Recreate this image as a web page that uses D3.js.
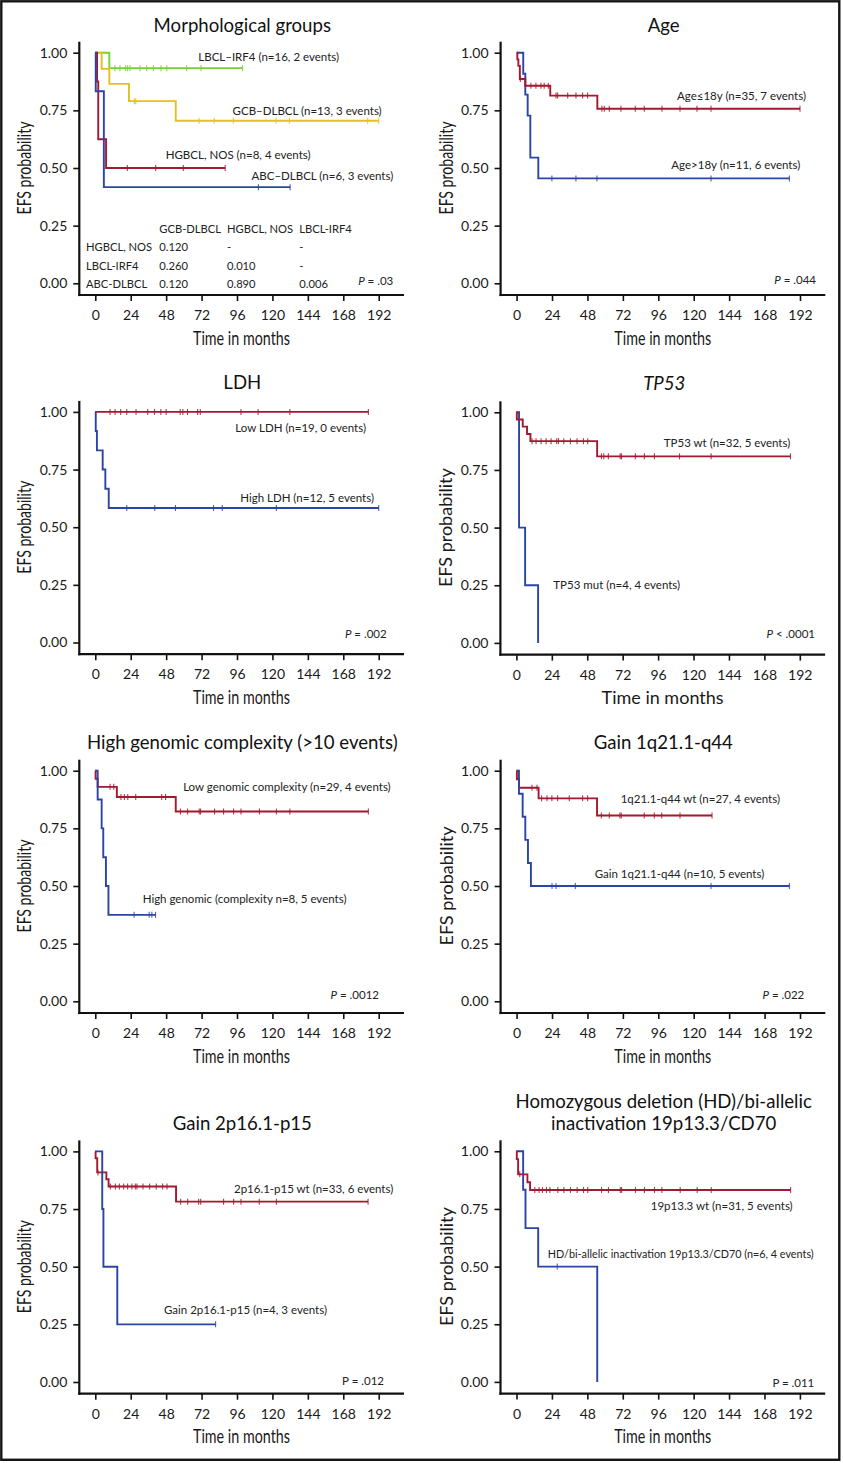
<!DOCTYPE html>
<html><head><meta charset="utf-8">
<script src="https://cdn.jsdelivr.net/npm/d3@7"></script>
<style>body{margin:0;background:#fff}svg{display:block}</style>
</head><body><svg id="c" width="843" height="1463"></svg>
<script>
// ---------- shared ticks ----------
const xTicks = [0, 24, 48, 72, 96, 120, 144, 168, 192];
const yTicks = [0, 0.25, 0.5, 0.75, 1];

// ---------- Morphological groups ----------
const morphLbclTimes = [9.5], morphLbclSurv = [0.933];
const morphLbclCens = [13.3, 16.7, 20.6, 21.9, 23.5, 30.3, 34.8, 39.3, 44.5, 48.4, 61.9, 71.6, 99.8];
const morphGcbTimes = [4.3, 9.5, 22.8, 54.5], morphGcbSurv = [0.93, 0.865, 0.79, 0.705];
const morphGcbCens = [26.4, 27.4, 70.3, 80.6, 93.5, 122.4, 131.5, 184.5, 192];
const morphHgbclTimes = [1.2, 2.0, 7.3], morphHgbclSurv = [0.875, 0.625, 0.5];
const morphHgbclCens = [21.7, 40.9, 59.6, 88];
const morphAbcTimes = [0.3, 5.8], morphAbcSurv = [0.833, 0.417];
const morphAbcCens = [110.5, 132];
const pairCols = ["GCB-DLBCL", "HGBCL, NOS", "LBCL-IRF4"];
const pairRows = ["HGBCL, NOS", "LBCL-IRF4", "ABC-DLBCL"];
const pairVals = [["0.120", "-", "-"], ["0.260", "0.010", "-"], ["0.120", "0.890", "0.006"]];

// ---------- Age ----------
const ageLeTimes = [0.5, 1.2, 2.2, 5.9, 22.8, 54.7], ageLeSurv = [0.971, 0.943, 0.886, 0.857, 0.814, 0.757];
const ageLeCens = [2.5, 9.7, 13.1, 16.5, 18.7, 21.5, 26.7, 27.8, 34.6, 40.2, 44.7, 48.1, 57.8, 59.4, 62.8, 70.7, 80.4, 86.5, 98.5, 110.7, 122.2, 131.7, 192];
const ageGtTimes = [4.5, 5.9, 7.5, 9.3, 14.7], ageGtSurv = [0.909, 0.818, 0.727, 0.545, 0.455];
const ageGtCens = [23.9, 40.2, 54.4, 131.7, 184.8];

// ---------- LDH ----------
const ldhLowTimes = [], ldhLowSurv = [];
const ldhLowCens = [10, 13.4, 17.2, 21.3, 27.6, 35.5, 40.1, 44.4, 48, 57.5, 59.3, 62.5, 69.3, 71.1, 98.7, 110.3, 131.8, 185];
const ldhHighTimes = [0.3, 1.1, 5.0, 6.8, 9.1], ldhHighSurv = [0.917, 0.833, 0.75, 0.667, 0.583];
const ldhHighCens = [21.3, 40.3, 54.3, 80.1, 86, 122.7, 192];

// ---------- TP53 ----------
const tpWtTimes = [0.3, 4.3, 7.2, 9.5, 54.7], tpWtSurv = [0.969, 0.938, 0.906, 0.875, 0.809];
const tpWtCens = [10.6, 13.3, 16.7, 20.1, 23.5, 27.3, 28.5, 32.1, 36.6, 41.1, 45.4, 48.3, 57.6, 59.2, 62.3, 70.3, 71.2, 80.6, 86.7, 93.5, 110.5, 131.9, 185.7];
const tpMutTimes = [1.8, 5.9, 14.7], tpMutSurv = [0.5, 0.25, 0];
const tpMutCens = [];

// ---------- Genomic complexity ----------
const gcLowTimes = [0.2, 1.6, 14.6, 54.5], gcLowSurv = [0.965, 0.93, 0.886, 0.823];
const gcLowCens = [10, 12.5, 17.4, 19.7, 22, 27.4, 45, 47.6, 57.7, 62.5, 70.4, 71.3, 80.8, 86.9, 93.7, 98.7, 111.2, 122.7, 131.8, 185];
const gcHighTimes = [1.6, 4.3, 5.4, 7.2, 8.9], gcHighSurv = [0.875, 0.75, 0.625, 0.5, 0.375];
const gcHighCens = [26.3, 36.5, 38.3, 40.8];

// ---------- Gain 1q21.1-q44 ----------
const q1WtTimes = [0.2, 1.6, 14.9, 54.5], q1WtSurv = [0.963, 0.926, 0.88, 0.806];
const q1WtCens = [10.4, 13.8, 16.9, 20.6, 23.9, 27.8, 35.7, 44.7, 48.1, 57.4, 62.8, 70, 70.9, 86.5, 93.3, 98.3, 110.7, 132.4];
const q1GainTimes = [1.6, 4.1, 5.9, 7.7, 9.7], q1GainSurv = [0.9, 0.8, 0.7, 0.6, 0.5];
const q1GainCens = [24, 26.7, 39.8, 131.7, 184.8];

// ---------- Gain 2p16.1-p15 ----------
const p2WtTimes = [0.2, 1.3, 7.5, 9.0, 54.7], p2WtSurv = [0.97, 0.909, 0.879, 0.848, 0.782];
const p2WtCens = [1.8, 10.2, 13.6, 16.3, 19.2, 21.9, 24.8, 27.1, 28.2, 32.3, 36.8, 41.3, 45.6, 48.6, 57.8, 62.6, 70, 71.4, 86.9, 93.7, 98.7, 111.1, 122.7, 184.8];
const p2GainTimes = [4.7, 5.5, 14.9], p2GainSurv = [0.75, 0.5, 0.25];
const p2GainCens = [81.5];

// ---------- HD 19p13.3/CD70 ----------
const hdWtTimes = [0.2, 1.1, 7.4, 9.2], hdWtSurv = [0.966, 0.9, 0.866, 0.832];
const hdWtCens = [2.2, 12.4, 15.3, 17.6, 20.3, 22.6, 28, 32.1, 36.6, 41.1, 45.4, 48.3, 57.6, 62.3, 70.3, 71.2, 80.6, 86.7, 93.5, 98.5, 110.9, 122.4, 131.9, 185.7];
const hdMutTimes = [4.5, 6.1, 14.7, 54.7], hdMutSurv = [0.833, 0.667, 0.5, 0];
const hdMutCens = [27.6];

// ---------- styles ----------
const RED = "#a3192f", BLUE = "#2b45a6", GREEN = "#72d42c", YELLOW = "#e5c020";
const FONT = "Lato, 'Open Sans', 'Noto Sans', sans-serif";

const panels = [
  {ox: 0, oy: 0, yLab: "cond", xLab: "cond", curves: [
    {t: morphLbclTimes, s: morphLbclSurv, c: morphLbclCens, col: GREEN},
    {t: morphGcbTimes, s: morphGcbSurv, c: morphGcbCens, col: YELLOW},
    {t: morphHgbclTimes, s: morphHgbclSurv, c: morphHgbclCens, col: RED},
    {t: morphAbcTimes, s: morphAbcSurv, c: morphAbcCens, col: BLUE}]},
  {ox: 421.3, oy: 0, yLab: "cond", xLab: "cond", curves: [
    {t: ageGtTimes, s: ageGtSurv, c: ageGtCens, col: BLUE},
    {t: ageLeTimes, s: ageLeSurv, c: ageLeCens, col: RED}]},
  {ox: 0, oy: 359.2, yLab: "cond", xLab: "cond", curves: [
    {t: ldhHighTimes, s: ldhHighSurv, c: ldhHighCens, col: BLUE},
    {t: ldhLowTimes, s: ldhLowSurv, c: ldhLowCens, col: RED}]},
  {ox: 421.1, oy: 359.6, yLab: "reg", xLab: "reg", curves: [
    {t: tpMutTimes, s: tpMutSurv, c: tpMutCens, col: BLUE},
    {t: tpWtTimes, s: tpWtSurv, c: tpWtCens, col: RED}]},
  {ox: 0, oy: 718, yLab: "cond", xLab: "cond", curves: [
    {t: gcLowTimes, s: gcLowSurv, c: gcLowCens, col: RED},
    {t: gcHighTimes, s: gcHighSurv, c: gcHighCens, col: BLUE}]},
  {ox: 421.3, oy: 718, yLab: "reg", xLab: "cond", curves: [
    {t: q1WtTimes, s: q1WtSurv, c: q1WtCens, col: RED},
    {t: q1GainTimes, s: q1GainSurv, c: q1GainCens, col: BLUE}]},
  {ox: 0, oy: 1098.7, yLab: "cond", xLab: "cond", curves: [
    {t: p2WtTimes, s: p2WtSurv, c: p2WtCens, col: RED},
    {t: p2GainTimes, s: p2GainSurv, c: p2GainCens, col: BLUE}]},
  {ox: 421.2, oy: 1098.6, yLab: "reg", xLab: "cond", curves: [
    {t: hdMutTimes, s: hdMutSurv, c: hdMutCens, col: BLUE},
    {t: hdWtTimes, s: hdWtSurv, c: hdWtCens, col: RED}]}
];

const titles = [
  {lines: ["Morphological groups"], x: 242.3, y: [25]},
  {lines: ["Age"], x: 663.7, y: [25]},
  {lines: ["LDH"], x: 242.3, y: [382.7]},
  {lines: ["TP53"], x: 664.3, y: [383.3], italic: true},
  {lines: ["High genomic complexity (>10 events)"], x: 242.3, y: [742.7]},
  {lines: ["Gain 1q21.1-q44"], x: 663.3, y: [742.7]},
  {lines: ["Gain 2p16.1-p15"], x: 242.3, y: [1123.3]},
  {lines: ["Homozygous deletion (HD)/bi-allelic", "inactivation 19p13.3/CD70"], x: 663.7, y: [1101.7, 1123.3]}
];

const labels = [
  {t: "LBCL–IRF4 (n=16, 2 events)", x: 198.3, y: 57.3, a: "start"},
  {t: "GCB–DLBCL (n=13, 3 events)", x: 381.7, y: 111, a: "end"},
  {t: "HGBCL, NOS (n=8, 4 events)", x: 165.7, y: 155, a: "start"},
  {t: "ABC–DLBCL (n=6, 3 events)", x: 393.3, y: 176, a: "end"},
  {t: "Age≤18y (n=35, 7 events)", x: 806, y: 95.7, a: "end"},
  {t: "Age>18y (n=11, 6 events)", x: 800.3, y: 165, a: "end"},
  {t: "Low LDH (n=19, 0 events)", x: 366, y: 428, a: "end"},
  {t: "High LDH (n=12, 5 events)", x: 374, y: 498, a: "end"},
  {t: "TP53 wt (n=32, 5 events)", x: 790.3, y: 442.7, a: "end"},
  {t: "TP53 mut (n=4, 4 events)", x: 553.3, y: 585, a: "start"},
  {t: "Low genomic complexity (n=29, 4 events)", x: 390.7, y: 787, a: "end"},
  {t: "High genomic (complexity n=8, 5 events)", x: 142.7, y: 899, a: "start"},
  {t: "1q21.1-q44 wt (n=27, 4 events)", x: 780, y: 798.7, a: "end"},
  {t: "Gain 1q21.1-q44 (n=10, 5 events)", x: 764.3, y: 874, a: "end"},
  {t: "2p16.1-p15 wt (n=33, 6 events)", x: 393.3, y: 1189.3, a: "end"},
  {t: "Gain 2p16.1-p15 (n=4, 3 events)", x: 164, y: 1310, a: "start"},
  {t: "19p13.3 wt (n=31, 5 events)", x: 792.7, y: 1206, a: "end"},
  {t: "HD/bi-allelic inactivation 19p13.3/CD70 (n=6, 4 events)", x: 547.7, y: 1254, a: "start", fs: 10.8}
];

const pvals = [
  {p: "P", rest: " = .03", x: 393.3, y: 280.7, it: true},
  {p: "P", rest: " = .044", x: 816, y: 280, it: true},
  {p: "P", rest: " = .002", x: 386.7, y: 634, it: true},
  {p: "P", rest: " < .0001", x: 815, y: 634, it: true},
  {p: "P", rest: " = .0012", x: 379, y: 995.3, it: true},
  {p: "P", rest: " = .022", x: 804.3, y: 995.3, it: true},
  {p: "P", rest: " = .012", x: 384, y: 1380.7, it: false},
  {p: "P", rest: " = .011", x: 814.3, y: 1383.3, it: false}
];

// ---------- drawing ----------
const svg = d3.select("#c");
svg.append("rect").attr("width", 843).attr("height", 1463).attr("fill", "#fff");

const x = d3.scaleLinear().domain([0, 192]).range([95.3, 378.7]);
const y = d3.scaleLinear().domain([0, 1]).range([283.3, 52.7]);
const line = d3.line().x(d => x(d[0])).y(d => y(d[1])).curve(d3.curveStepAfter);

function kmPoints(times, surv, cens) {
  const pts = [[0, 1]];
  times.forEach((t, i) => pts.push([t, surv[i]]));
  const end = d3.max([pts[pts.length - 1][0], d3.max(cens) || 0]);
  if (end > pts[pts.length - 1][0]) pts.push([end, pts[pts.length - 1][1]]);
  return pts;
}
function survAt(times, surv, t) {
  let v = 1;
  times.forEach((tt, i) => { if (tt <= t) v = surv[i]; });
  return v;
}

panels.forEach(p => {
  const g = svg.append("g").attr("transform", `translate(${p.ox},${p.oy})`);
  const ya = d3.axisLeft(y).tickValues(yTicks).tickFormat(d3.format(".2f")).tickSize(6).tickSizeOuter(0).tickPadding(6);
  const yg = g.append("g").attr("transform", "translate(79.3,0)").call(ya);
  const xa = d3.axisBottom(x).tickValues(xTicks).tickFormat(d3.format("d")).tickSize(6).tickSizeOuter(0).tickPadding(9);
  const xg = g.append("g").attr("transform", "translate(0,295)").call(xa);
  [yg, xg].forEach(ag => {
    ag.select(".domain").remove();
    ag.selectAll(".tick line").attr("stroke", "#111").attr("stroke-width", 1.6);
    ag.selectAll("text").attr("fill", "#1a1a1a").style("font-family", FONT).style("font-size", "14px");
  });
  g.append("line").attr("x1", 79.3).attr("x2", 79.3).attr("y1", 41.7).attr("y2", 296.1)
    .attr("stroke", "#111").attr("stroke-width", 2.2);
  g.append("line").attr("x1", 78.2).attr("x2", 404).attr("y1", 295).attr("y2", 295)
    .attr("stroke", "#111").attr("stroke-width", 2.2);
  // axis titles
  const cond = p.yLab === "cond";
  const yt = g.append("text").attr("transform", "translate(25,168) rotate(-90)").attr("text-anchor", "middle")
    .attr("dy", "0.35em").attr("fill", "#1a1a1a")
    .style("font-family", FONT).style("font-size", cond ? "18.5px" : "18px")
    .text("EFS probability");
  if (cond) yt.attr("textLength", 93).attr("lengthAdjust", "spacingAndGlyphs");
  const xc = p.xLab === "cond";
  const xt = g.append("text").attr("x", 241.5).attr("y", 338).attr("text-anchor", "middle")
    .attr("dy", "0.35em").attr("fill", "#1a1a1a")
    .style("font-family", FONT).style("font-size", xc ? "19px" : "18px")
    .text("Time in months");
  if (xc) xt.attr("textLength", 97).attr("lengthAdjust", "spacingAndGlyphs");
  // curves
  p.curves.forEach(cv => {
    g.append("path").datum(kmPoints(cv.t, cv.s, cv.c)).attr("d", line)
      .attr("fill", "none").attr("stroke", cv.col).attr("stroke-width", 1.9);
    g.selectAll(null).data(cv.c).enter().append("line")
      .attr("x1", d => x(d)).attr("x2", d => x(d))
      .attr("y1", d => y(survAt(cv.t, cv.s, d)) - 3)
      .attr("y2", d => y(survAt(cv.t, cv.s, d)) + 3)
      .attr("stroke", cv.col).attr("stroke-width", 1.1).attr("opacity", 0.85);
  });
});

// titles
titles.forEach(t => {
  t.lines.forEach((ln, i) => {
    svg.append("text").attr("x", t.x).attr("y", t.y[i]).attr("dy", "0.36em")
      .attr("text-anchor", "middle").attr("fill", "#111")
      .style("font-family", FONT).style("font-size", "18.6px")
      .style("font-style", t.italic ? "italic" : "normal").text(ln);
  });
});

// curve labels
labels.forEach(l => {
  svg.append("text").attr("x", l.x).attr("y", l.y).attr("dy", "0.35em")
    .attr("text-anchor", l.a).attr("fill", "#222")
    .style("font-family", FONT).style("font-size", (l.fs || 11.5) + "px").text(l.t);
});

// p-values
pvals.forEach(pv => {
  const t = svg.append("text").attr("x", pv.x).attr("y", pv.y).attr("dy", "0.35em")
    .attr("text-anchor", "end").attr("fill", "#222")
    .style("font-family", FONT).style("font-size", "11.5px");
  t.append("tspan").style("font-style", pv.it ? "italic" : "normal").text(pv.p);
  t.append("tspan").text(pv.rest);
});

// pairwise table (panel 1)
const colX = [159.3, 227, 299.3];
const tbl = svg.append("g").style("font-family", FONT).style("font-size", "11.2px").attr("fill", "#222");
pairCols.forEach((c, i) => tbl.append("text").attr("x", colX[i]).attr("y", 229).attr("dy", "0.35em").text(c));
pairRows.forEach((r, j) => {
  const yy = 247.3 + j * 18.35;
  tbl.append("text").attr("x", 86).attr("y", yy).attr("dy", "0.35em").text(r);
  pairVals[j].forEach((v, i) => tbl.append("text").attr("x", colX[i]).attr("y", yy).attr("dy", "0.35em").text(v));
});

// outer frame
svg.append("rect").attr("x", 1.3).attr("y", 1.3).attr("width", 838).attr("height", 1458.5)
  .attr("fill", "none").attr("stroke", "#151515").attr("stroke-width", 2.4);
</script></body></html>
